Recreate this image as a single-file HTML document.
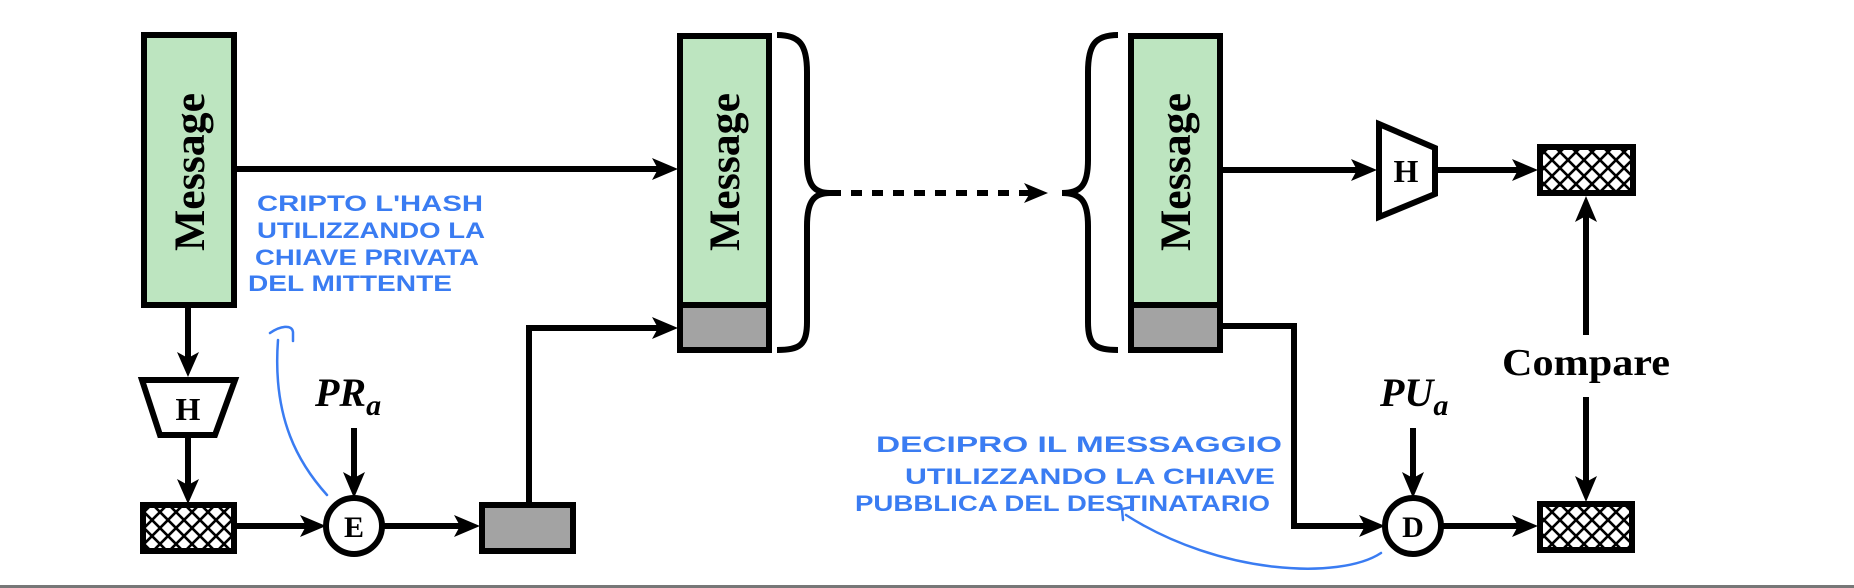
<!DOCTYPE html>
<html><head><meta charset="utf-8"><style>
html,body{margin:0;padding:0;background:#fff;}
svg{display:block;}
.lbl{font-family:"Liberation Serif",serif;font-weight:bold;}
.hw{font-family:"Liberation Sans",sans-serif;fill:#3a7cf2;font-size:22px;font-weight:bold;}
</style></head><body>
<svg width="1854" height="588" viewBox="0 0 1854 588" xmlns="http://www.w3.org/2000/svg">
<defs>
<pattern id="hatch" width="16" height="16" patternUnits="userSpaceOnUse">
<rect width="16" height="16" fill="#fff"/>
<path d="M0,0 L16,16 M16,0 L0,16" stroke="#000" stroke-width="2.6"/>
</pattern>
</defs>
<g stroke="#000" stroke-width="6" fill="none">
<rect x="144" y="35" width="90" height="270" fill="#bde5c0"/>
<rect x="680" y="36" width="89" height="269" fill="#bde5c0"/>
<rect x="680" y="305" width="89" height="45" fill="#a3a3a3"/>
<rect x="1131" y="36" width="89" height="269" fill="#bde5c0"/>
<rect x="1131" y="305" width="89" height="45" fill="#a3a3a3"/>
<polygon points="142,380 235,380 215,435 160,435" fill="#fff"/>
<polygon points="1379,124 1435,148 1435,194 1379,217" fill="#fff"/>
<rect x="143" y="505" width="91" height="46" fill="url(#hatch)"/>
<rect x="1540" y="147" width="93" height="46" fill="url(#hatch)"/>
<rect x="1540" y="504" width="92" height="46" fill="url(#hatch)"/>
<rect x="482" y="505" width="91" height="46" fill="#a3a3a3"/>
<circle cx="354" cy="526" r="28" fill="#fff"/>
<circle cx="1413" cy="526" r="28" fill="#fff"/>
<line x1="237" y1="169" x2="660" y2="169"/>
<line x1="188" y1="307" x2="188" y2="360"/>
<line x1="188" y1="437" x2="188" y2="488"/>
<line x1="236" y1="526" x2="308" y2="526"/>
<line x1="382" y1="526" x2="462" y2="526"/>
<line x1="354" y1="428" x2="354" y2="480"/>
<polyline points="529,503 529,328 660,328"/>
<line x1="1223" y1="170" x2="1360" y2="170"/>
<line x1="1437" y1="170" x2="1522" y2="170"/>
<polyline points="1223,326 1294,326 1294,526 1367,526"/>
<line x1="1413" y1="428" x2="1413" y2="480"/>
<line x1="1441" y1="526" x2="1522" y2="526"/>
<line x1="1586" y1="335" x2="1586" y2="212"/>
<line x1="1586" y1="397" x2="1586" y2="485"/>
<line x1="830" y1="193" x2="1030" y2="193" stroke-dasharray="11,10"/>
<path d="M777,35 C800,35 807,45 807,72 L807,160 C807,185 814,193 830,193 C814,193 807,201 807,226 L807,322 C807,345 800,350 777,350"/>
<path d="M1118,35 C1095,35 1088,45 1088,72 L1088,160 C1088,185 1081,193 1062,193 C1081,193 1088,201 1088,226 L1088,322 C1088,345 1095,350 1118,350"/>
</g>
<g fill="#000">
<polygon points="678,169 652,158 658,169 652,180"/>
<polygon points="188,377 177,352 188,358 199,352"/>
<polygon points="188,504 177,479 188,485 199,479"/>
<polygon points="326,526 300,515 306,526 300,537"/>
<polygon points="480,526 454,515 460,526 454,537"/>
<polygon points="354,498 343,472 354,478 365,472"/>
<polygon points="678,328 652,317 658,328 652,339"/>
<polygon points="1377,170 1351,159 1357,170 1351,181"/>
<polygon points="1538,170 1512,159 1518,170 1512,181"/>
<polygon points="1385,526 1359,515 1365,526 1359,537"/>
<polygon points="1413,498 1402,472 1413,478 1424,472"/>
<polygon points="1538,526 1512,515 1518,526 1512,537"/>
<polygon points="1586,196 1575,222 1586,216 1597,222"/>
<polygon points="1586,502 1575,476 1586,482 1597,476"/>
<polygon points="1048,193 1024,183 1030,193 1024,203"/>
</g>
<text class="lbl" font-size="43" transform="translate(204,172) rotate(-90)" text-anchor="middle" textLength="158" lengthAdjust="spacingAndGlyphs">Message</text>
<text class="lbl" font-size="43" transform="translate(739,172) rotate(-90)" text-anchor="middle" textLength="158" lengthAdjust="spacingAndGlyphs">Message</text>
<text class="lbl" font-size="43" transform="translate(1190,172) rotate(-90)" text-anchor="middle" textLength="158" lengthAdjust="spacingAndGlyphs">Message</text>
<text class="lbl" font-size="32" x="188" y="420" text-anchor="middle">H</text>
<text class="lbl" font-size="32" x="1406" y="182" text-anchor="middle">H</text>
<text class="lbl" font-size="30" x="354" y="537" text-anchor="middle">E</text>
<text class="lbl" font-size="30" x="1413" y="537" text-anchor="middle">D</text>
<text class="lbl" font-size="40" font-style="italic" x="315" y="406">PR<tspan font-size="30" dy="9">a</tspan></text>
<text class="lbl" font-size="40" font-style="italic" x="1380" y="406">PU<tspan font-size="30" dy="9">a</tspan></text>
<text class="lbl" font-size="38" x="1502" y="375" textLength="168" lengthAdjust="spacingAndGlyphs">Compare</text>
<text class="hw" x="257" y="211" textLength="226" lengthAdjust="spacingAndGlyphs">CRIPTO L'HASH</text>
<text class="hw" x="257" y="238" textLength="228" lengthAdjust="spacingAndGlyphs">UTILIZZANDO LA</text>
<text class="hw" x="255" y="265" textLength="224" lengthAdjust="spacingAndGlyphs">CHIAVE PRIVATA</text>
<text class="hw" x="248" y="291" textLength="204" lengthAdjust="spacingAndGlyphs">DEL MITTENTE</text>
<text class="hw" x="876" y="452" textLength="406" lengthAdjust="spacingAndGlyphs">DECIPRO  IL  MESSAGGIO</text>
<text class="hw" x="905" y="484" textLength="370" lengthAdjust="spacingAndGlyphs">UTILIZZANDO LA CHIAVE</text>
<text class="hw" x="855" y="511" textLength="415" lengthAdjust="spacingAndGlyphs">PUBBLICA DEL DESTINATARIO</text>
<g stroke="#3a7cf2" stroke-width="2.5" fill="none" stroke-linecap="round">
<path d="M327,495 C300,465 272,420 278,340"/>
<path d="M270,333 C280,326 292,324 293,332 L293,341"/>
<path d="M1381,553 C1340,580 1220,575 1126,515"/>
<path d="M1123,520 L1122,509 L1132,507"/>
</g>
<rect x="0" y="585" width="1854" height="3" fill="#777"/>
</svg>
</body></html>
